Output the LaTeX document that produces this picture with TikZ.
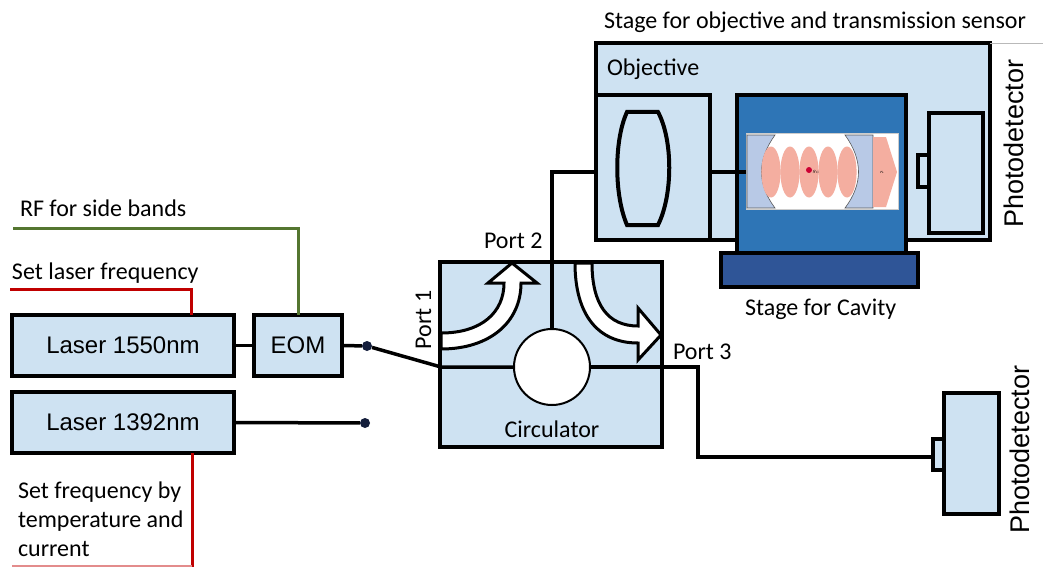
\documentclass[tikz,border=0pt]{standalone}
\usepackage{fontspec}
\setmainfont{Carlito}
\newfontfamily\arialfont{Liberation Sans}
\usetikzlibrary{calc}

\definecolor{boxblue}{RGB}{206,226,242}
\definecolor{cavblue}{RGB}{46,117,182}
\definecolor{baseblue}{RGB}{47,85,151}
\definecolor{mirrorblue}{RGB}{184,201,230}
\definecolor{lobered}{RGB}{244,174,160}
\definecolor{ctrlred}{RGB}{192,0,0}
\definecolor{rfgreen}{RGB}{84,118,48}
\definecolor{dotnavy}{RGB}{20,30,60}

\tikzset{
  box/.style={draw=black, line width=4pt, fill=boxblue, inner sep=0pt, outer sep=0pt, rectangle},
  wire/.style={line width=3.5pt, line join=miter},
  ctrl/.style={line width=3pt, draw=ctrlred},
  rfline/.style={line width=3pt, draw=rfgreen},
  lbl/.style={font=\fontsize{24}{28}\selectfont, inner sep=0pt, outer sep=0pt},
  albl/.style={font=\arialfont\fontsize{24}{28}\selectfont, inner sep=0pt},
  pdlbl/.style={font=\arialfont\fontsize{27}{30}\selectfont, inner sep=0pt, rotate=90, anchor=base west},
  flowarrow/.style={draw=black, line width=3pt, fill=white, line join=miter},
  fibredot/.style={circle, fill=dotnavy, minimum size=10pt, inner sep=0pt},
}

\begin{document}
\begin{tikzpicture}[x=1pt, y=-1pt]
\path[use as bounding box, fill=white] (0,0) rectangle (1043,567);

% ---------- stage with objective, cavity and transmission sensor ----------
\node[box, minimum width=394pt, minimum height=197pt] (stage) at (793,141.5) {};
\draw[gray!55, line width=0.8pt] (stage.north east) -- (1043,43);
\node[lbl, anchor=base west] (stagetxt) at (604,29) {Stage for objective and transmission sensor};
\node[lbl, anchor=base west] (objtxt) at (607,76) {Objective};

\node[box, minimum width=114pt, minimum height=145pt] (obj) at (653,167.5) {};
\draw[line width=4pt, fill=boxblue] (627,112) .. controls (614,140) and (614,195) .. (627,225)
  -- (658,225) .. controls (673,195) and (673,140) .. (658,112) -- cycle;

\node[box, fill=cavblue, minimum width=169pt, minimum height=158pt] (cavstage) at (821.5,174) {};
\node[box, fill=baseblue, minimum width=197pt, minimum height=34pt] (cavbase) at (819.5,270) {};
\node[lbl, anchor=base west] (cavtxt) at (745,315) {Stage for Cavity};

% cavity sketch
\node[fill=white, draw=gray!40, line width=0.5pt, minimum width=152pt, minimum height=76pt, inner sep=0pt] (cavimg) at (822,171) {};
\draw[fill=mirrorblue, draw=gray!70!black, line width=0.6pt] (747,135) -- (775,135)
  .. controls (757,160) and (757,184) .. (775,208) -- (747,208) -- cycle;
\draw[fill=mirrorblue, draw=gray!70!black, line width=0.6pt] (873,135) -- (845,135)
  .. controls (863,160) and (863,184) .. (845,208) -- (873,208) -- cycle;
\foreach \cx in {771,790,809,828,847}
  \fill[lobered] (\cx,172) ellipse (9.6 and 25.5);
\fill[ctrlred!80!magenta] (809,170) circle (3);
\node[font=\fontsize{5}{6}\selectfont, inner sep=0pt] (atomtxt) at (816,172) {$g_c$};
\fill[lobered] (873,137) -- (886,137) -- (897,172) -- (886,207) -- (873,207) -- cycle;
\node[font=\fontsize{5}{6}\selectfont, inner sep=0pt] (kappatxt) at (882,172) {$\kappa$};

% transmission photodetector
\node[box, minimum width=54pt, minimum height=120pt] (pdA) at (956,173) {};
\node[box, line width=3.5pt, minimum width=11pt, minimum height=32pt] (tabA) at (923.5,171) {};
\node[pdlbl] (pdAtxt) at (1023,228) {Photodetector};

% objective to cavity
\coordinate (objin) at (596,172);
\coordinate (objout) at (710,172);
\coordinate (cavin) at (746,172);
\draw[wire] (objout) -- (cavin);

% ---------- lasers and modulator ----------
\node[box, albl, minimum width=222pt, minimum height=61pt] (laserA) at (123,345.5) {Laser 1550nm};
\node[box, albl, minimum width=88pt, minimum height=61pt] (eom) at (298,345.5) {EOM};
\node[box, albl, minimum width=222pt, minimum height=61pt] (laserB) at (123,422.5) {Laser 1392nm};

\node[fibredot] (dA) at (367,346) {};
\node[fibredot] (dB) at (365,423) {};
\draw[wire] (laserA.east) -- (eom.west);
\draw[wire] (eom.east) -- (dA);
\draw[wire] (laserB.east) -- (dB);

% control inputs
\coordinate (rfstart) at (13,228);
\coordinate (setAstart) at (10,289);
\coordinate (laserAtop) at (191,315);
\coordinate (laserBbot) at (192,453);
\coordinate (setBend) at (192,567);
\draw[rfline] (rfstart) -| (eom.north);
\draw[ctrl] (setAstart) -| (laserAtop);
\draw[ctrl] (laserBbot) -- (setBend);
\draw[ctrlred!45, line width=1.5pt] (12,566) -- (192,566);
\node[lbl, anchor=base west] (rftxt) at (20,216) {RF for side bands};
\node[lbl, anchor=base west] (setAtxt) at (12,279) {Set laser frequency};
\node[lbl, anchor=base west] (setB1) at (18,498) {Set frequency by};
\node[lbl, anchor=base west] (setB2) at (18,527) {temperature and};
\node[lbl, anchor=base west] (setB3) at (18,556) {current};

% ---------- circulator ----------
\node[box, minimum width=222pt, minimum height=185pt] (circ) at (551,354.5) {};
\draw[flowarrow] (441,333) .. controls (482,333) and (504,312) .. (504,283)
  -- (488,283) -- (512,263) -- (537,283) -- (521,283)
  .. controls (521,322) and (490,349) .. (441,349) -- cycle;
\draw[flowarrow] (575,263) .. controls (575,315) and (598,343) .. (638,343)
  -- (638,360) -- (661,335) -- (638,308) -- (638,326)
  .. controls (608,326) and (592,305) .. (592,263) -- cycle;
\node[circle, draw=black, line width=2pt, fill=white, minimum size=76pt, inner sep=0pt] (ring) at (552,367) {};
\node[lbl, anchor=base] (circtxt) at (552,437) {Circulator};
\node[lbl, anchor=base west] (p2txt) at (484,248) {Port 2};
\node[lbl, anchor=base west, rotate=90] (p1txt) at (431,349) {Port 1};
\node[lbl, anchor=base west] (p3txt) at (673,359) {Port 3};

% fibre routing through the circulator
\coordinate (circin) at (441,367);
\coordinate (circturn) at (698,367);
\draw[wire] (dA) -- (circin) -- (ring.west);
\draw[wire] (ring.north) |- (objin);
\draw[wire] (ring.east) -- (circturn) |- (938,457);

% reflection photodetector
\node[box, minimum width=55pt, minimum height=121pt] (pdB) at (971.5,453.5) {};
\node[box, line width=3.5pt, minimum width=11pt, minimum height=31pt] (tabB) at (938.5,454.5) {};
\node[pdlbl] (pdBtxt) at (1029,534) {Photodetector};
\end{tikzpicture}
\end{document}
